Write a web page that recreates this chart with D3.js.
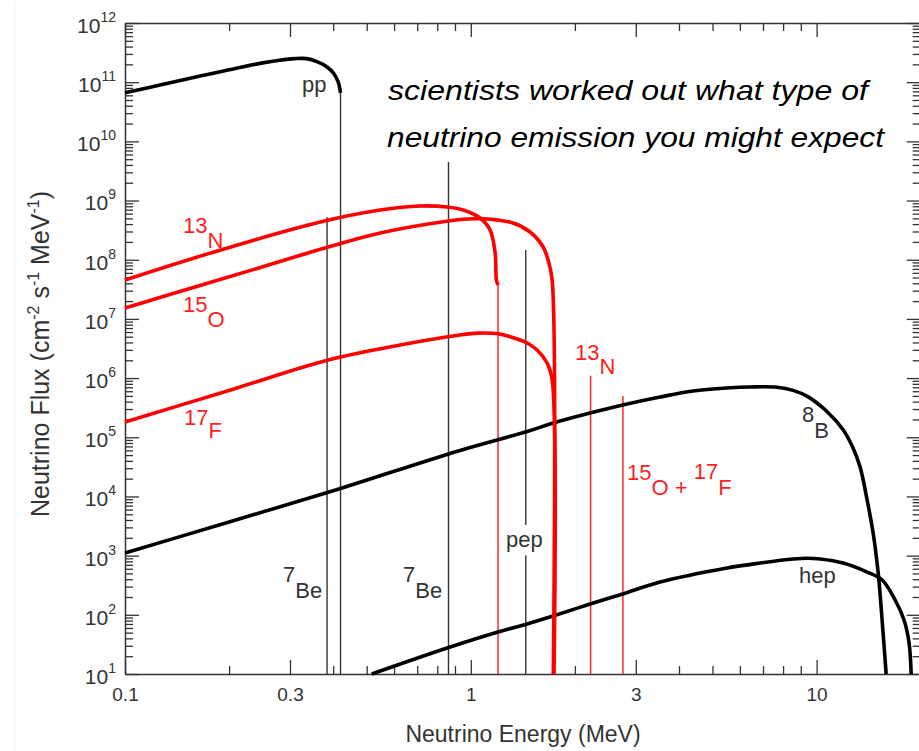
<!DOCTYPE html>
<html>
<head>
<meta charset="utf-8">
<script src="https://cdn.jsdelivr.net/npm/d3@7"></script>
<style>
  html, body { margin: 0; padding: 0; background: #fff; }
  svg { display: block; }
  text { font-family: "Liberation Sans", Arial, Helvetica, sans-serif; }
</style>
</head>
<body>
<svg id="chart" width="919" height="751"></svg>
<script>
// ---- Solar neutrino spectra: energy (MeV) and flux (cm^-2 s^-1 MeV^-1) ----
const ppE   = [0.1, 0.13, 0.165, 0.2, 0.25, 0.28, 0.31, 0.335, 0.359, 0.384, 0.4005, 0.4134, 0.42];
const ppF   = [6.6e10, 9.3e10, 1.27e11, 1.62e11, 2.12e11, 2.35e11, 2.5e11, 2.5e11, 2.22e11, 1.81e11, 1.43e11, 1.01e11, 6.6e10];

const n13E  = [0.1, 0.188, 0.367, 0.547, 0.714, 0.854, 0.95, 1.064, 1.137, 1.176, 1.186, 1.199];
const n13F  = [4.54e7, 1.45e8, 4.34e8, 6.92e8, 8.09e8, 7.78e8, 6.92e8, 5.07e8, 3.18e8, 1.30e8, 4.5e7, 3.74e7];

const o15E  = [0.1, 0.1206, 0.2347, 0.387, 0.547, 0.861, 0.976, 1.115, 1.325, 1.484, 1.619, 1.673, 1.719, 1.732];
const o15F  = [1.53e7, 2.12e7, 6.80e7, 1.64e8, 2.83e8, 4.51e8, 4.88e8, 4.88e8, 4.17e8, 2.94e8, 1.64e8, 9.9e7, 4.5e7, 10];

const f17E  = [0.1, 0.2054, 0.387, 0.6246, 0.931, 1.05, 1.199, 1.389, 1.455, 1.555, 1.662, 1.719, 1.74];
const f17F  = [1.81e5, 6.5e5, 2.02e6, 3.62e6, 5.35e6, 5.75e6, 5.6e6, 4.40e6, 3.91e6, 2.98e6, 1.80e6, 9.3e5, 10];

const b8E   = [0.1, 0.2, 0.4, 0.931, 1.455, 1.73, 2.213, 2.75, 3.527, 4.394, 5.51, 6.423, 7.69, 8.55, 9.4, 10.73, 11.93, 12.7, 13.36, 14.0, 14.57, 15.07, 15.57, 15.89];
const b8F   = [1.11e3, 3.7e3, 1.25e4, 6.0e4, 1.25e5, 1.74e5, 2.57e5, 3.51e5, 4.79e5, 6.05e5, 6.8e5, 7.07e5, 7.0e5, 6.2e5, 4.9e5, 2.7e5, 1.34e5, 6.9e4, 3.14e4, 8.71e3, 2.41e3, 508, 49.3, 10];

const hepE  = [0.517, 0.854, 1.199, 1.455, 1.73, 2.213, 2.75, 3.527, 5.51, 6.87, 8.55, 9.4, 10.24, 11.93, 14.0, 15.47, 16.87, 17.9, 18.51, 18.77];
const hepF  = [10, 27.5, 51.3, 70, 95.5, 152, 225, 358, 618, 750, 877, 905, 880, 750, 528, 387, 178, 81.6, 33.4, 10];

// Line sources and spectrum end points: energy, top flux
const blackLineE = [0.42, 0.384, 0.862, 1.442];
const blackLineF = [6.6e10, 5.2e8, 4.5e9, 1.46e8];
const redLineE   = [1.199, 2.22, 2.754];
const redLineF   = [3.74e7, 1.1e6, 5.0e5];
const pepGap     = [1.02e3, 3.3e3];   // flux span left open for the "pep" label

// Axis tick values
const xMajor = [0.1, 0.3, 1, 3, 10];
const xMinor = [0.2, 0.4, 0.5, 0.6, 0.7, 0.8, 0.9, 2, 4, 5, 6, 7, 8, 9];
const yMajor = [1e1, 1e2, 1e3, 1e4, 1e5, 1e6, 1e7, 1e8, 1e9, 1e10, 1e11, 1e12];
const yMinor = [];
for (let p = 1; p < 12; p++) for (let m = 2; m <= 9; m++) yMinor.push(m * Math.pow(10, p));

// ---- Layout ----
const svg = d3.select("#chart");
const plotL = 125, plotR = 920.7, plotT = 23, plotB = 674;
const x = d3.scaleLog().domain([0.1, 20]).range([plotL, plotR]);
const y = d3.scaleLog().domain([10, 1e12]).range([plotB, plotT]);

const INK = "#333";
const RED = "#ff0000";

// faint frame of the panel
svg.append("line").attr("x1", 15).attr("x2", 15).attr("y1", 2).attr("y2", 751)
  .attr("stroke", "#f1f1f1").attr("stroke-width", 1);

// ---- Axes ----
function styleAxis(g) {
  g.selectAll("path.domain").attr("stroke", INK).attr("stroke-width", 1.5);
  g.selectAll(".tick line").attr("stroke", INK).attr("stroke-width", 1.3);
}

// bottom
const gB = svg.append("g").attr("transform", `translate(0,${plotB})`)
  .call(d3.axisBottom(x).tickValues(xMajor).tickSize(-14).tickSizeOuter(0).tickPadding(14)
        .tickFormat(d => String(d)));
styleAxis(gB);
gB.selectAll(".tick text").attr("fill", INK).attr("font-size", 19)
  .attr("font-family", "'Liberation Sans', Arial, sans-serif");
svg.append("g").attr("transform", `translate(0,${plotB})`)
  .call(d3.axisBottom(x).tickValues(xMinor).tickSize(-8).tickFormat(""))
  .call(g => { g.select(".domain").remove(); styleAxis(g); });

// top
const gT = svg.append("g").attr("transform", `translate(0,${plotT})`)
  .call(d3.axisTop(x).tickValues(xMajor).tickSize(-14).tickSizeOuter(0).tickFormat(""));
styleAxis(gT);
svg.append("g").attr("transform", `translate(0,${plotT})`)
  .call(d3.axisTop(x).tickValues(xMinor).tickSize(-8).tickFormat(""))
  .call(g => { g.select(".domain").remove(); styleAxis(g); });

// left
const gL = svg.append("g").attr("transform", `translate(${plotL},0)`)
  .call(d3.axisLeft(y).tickValues(yMajor).tickSize(-14).tickSizeOuter(0).tickPadding(9));
styleAxis(gL);
gL.selectAll(".tick text").each(function (d) {
  const t = d3.select(this);
  t.text(null).attr("fill", INK).attr("font-size", 21).attr("dy", "0.45em")
    .attr("font-family", "'Liberation Sans', Arial, sans-serif");
  t.append("tspan").text("10");
  t.append("tspan").attr("dy", -11).attr("font-size", 14).text(Math.round(Math.log10(d)));
});
svg.append("g").attr("transform", `translate(${plotL},0)`)
  .call(d3.axisLeft(y).tickValues(yMinor).tickSize(-8).tickFormat(""))
  .call(g => { g.select(".domain").remove(); styleAxis(g); });

// right
const gR = svg.append("g").attr("transform", `translate(${plotR},0)`)
  .call(d3.axisRight(y).tickValues(yMajor).tickSize(-14).tickSizeOuter(0).tickFormat(""));
styleAxis(gR);
svg.append("g").attr("transform", `translate(${plotR},0)`)
  .call(d3.axisRight(y).tickValues(yMinor).tickSize(-8).tickFormat(""))
  .call(g => { g.select(".domain").remove(); styleAxis(g); });

// axis titles
svg.append("text").attr("x", 523).attr("y", 742).attr("text-anchor", "middle")
  .attr("font-size", 23).attr("fill", INK).text("Neutrino Energy (MeV)");

const yTitle = svg.append("text").attr("transform", "translate(49,354) rotate(-90)")
  .attr("text-anchor", "middle").attr("font-size", 25).attr("fill", INK);
yTitle.append("tspan").text("Neutrino Flux (cm");
yTitle.append("tspan").attr("dy", -10).attr("font-size", 16).text("-2");
yTitle.append("tspan").attr("dy", 10).text(" s");
yTitle.append("tspan").attr("dy", -10).attr("font-size", 16).text("-1");
yTitle.append("tspan").attr("dy", 10).text(" MeV");
yTitle.append("tspan").attr("dy", -10).attr("font-size", 16).text("-1");
yTitle.append("tspan").attr("dy", 10).text(")");

// ---- Line sources (thin verticals) ----
const plot = svg.append("g");
function vline(E, f0, f1, color, w) {
  plot.append("line")
    .attr("x1", x(E)).attr("x2", x(E)).attr("y1", y(f0)).attr("y2", y(f1))
    .attr("stroke", color).attr("stroke-width", w);
}
blackLineE.forEach((E, i) => {
  if (i === 3) {          // pep: broken around its label
    vline(E, blackLineF[i], pepGap[1], INK, 1.4);
    vline(E, pepGap[0], 10, INK, 1.4);
  } else {
    vline(E, blackLineF[i], 10, INK, 1.4);
  }
});
redLineE.forEach((E, i) => vline(E, redLineF[i], 10, "#ff2a2a", 1.5));

// ---- Continuum spectra ----
const line = d3.line().x(d => x(d[0])).y(d => y(d[1])).curve(d3.curveCatmullRom.alpha(0.5));
const spectra = [
  { E: ppE,  F: ppF,  c: "#000" },
  { E: b8E,  F: b8F,  c: "#000" },
  { E: hepE, F: hepF, c: "#000" },
  { E: n13E, F: n13F, c: RED },
  { E: o15E, F: o15F, c: RED },
  { E: f17E, F: f17F, c: RED }
];
spectra.forEach(s => {
  plot.append("path")
    .datum(s.E.map((e, i) => [e, s.F[i]]))
    .attr("d", line).attr("fill", "none")
    .attr("stroke", s.c).attr("stroke-width", 3.6)
    .attr("stroke-linejoin", "round").attr("stroke-linecap", "butt");
});

// ---- Labels ----
function label(px, py, sup, base, color, rise) {
  const t = svg.append("text").attr("x", px).attr("y", py)
    .attr("font-size", 22).attr("fill", color);
  if (sup) {
    t.append("tspan").attr("dy", -rise).text(sup);
    t.append("tspan").attr("dy", rise).text(base);
  } else {
    t.text(base);
  }
  return t;
}
label(302, 92, null, "pp", INK, 0);
label(506, 547, null, "pep", INK, 0);
label(799, 583, null, "hep", INK, 0);
label(283, 598, "7", "Be", INK, 16);
label(403, 598, "7", "Be", INK, 16);
label(802, 438, "8", "B", INK, 16);
label(183, 248, "13", "N", "#ff1e1e", 15);
label(183, 327, "15", "O", "#ff1e1e", 15);
label(184, 438, "17", "F", "#ff1e1e", 13);
label(575, 374, "13", "N", "#ff1e1e", 14);
{
  const t = svg.append("text").attr("x", 627).attr("y", 495)
    .attr("font-size", 22).attr("fill", "#ff1e1e");
  t.append("tspan").attr("dy", -15).text("15");
  t.append("tspan").attr("dy", 15).text("O");
  t.append("tspan").text(" + ");
  t.append("tspan").attr("dy", -16).text("17");
  t.append("tspan").attr("dy", 16).text("F");
}

// ---- Caption ----
const cap = svg.append("g").attr("font-family", "Lato, 'Open Sans', sans-serif")
  .attr("font-style", "italic").attr("font-size", 28).attr("fill", "#000");
cap.append("text").attr("x", 388).attr("y", 100)
  .attr("textLength", 480).attr("lengthAdjust", "spacingAndGlyphs")
  .text("scientists worked out what type of");
cap.append("text").attr("x", 387).attr("y", 147)
  .attr("textLength", 497).attr("lengthAdjust", "spacingAndGlyphs")
  .text("neutrino emission you might expect");
</script>
</body>
</html>
